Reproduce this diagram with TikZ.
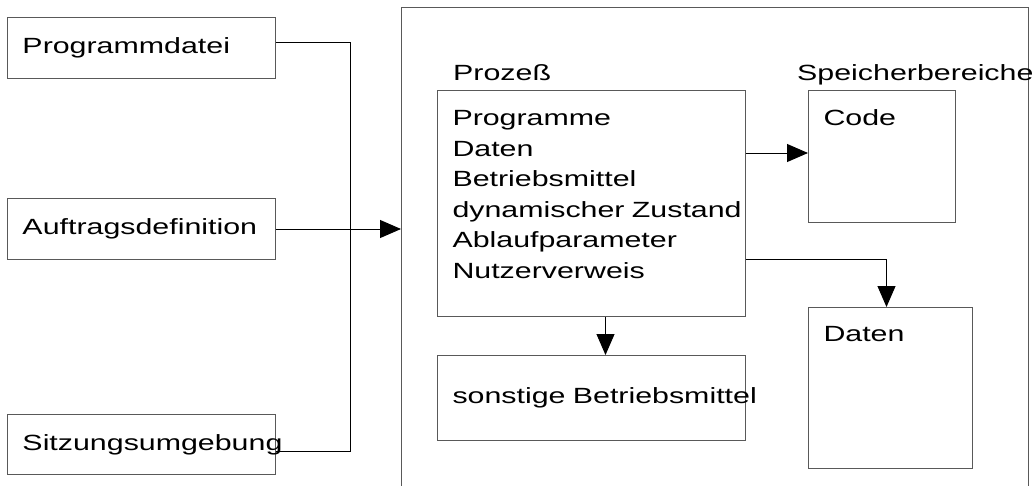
\documentclass[tikz,border=0pt]{standalone}
\usepackage{fontspec}
\usepackage{tikz}
\usetikzlibrary{arrows.meta, positioning, calc}
\newfontfamily\diafont[FakeStretch=1.38]{Liberation Sans}
\tikzset{
  frame/.style={rectangle, draw=black!65, line width=1pt, anchor=north west, inner sep=0pt},
  block/.style={frame, inner xsep=15pt, align=left, font=\diafont\fontsize{22}{30.6}\selectfont},
  caption/.style={font=\diafont\fontsize{22}{30.6}\selectfont, inner sep=0pt, anchor=base west},
  link/.style={draw=black, line width=1pt},
  arrowline/.style={link, -{Triangle[length=21pt, width=18pt]}},
}
\begin{document}
\begin{tikzpicture}[x=1pt, y=-1pt]
\fill[white] (0,0) rectangle (1034,485);
\useasboundingbox (0,0) rectangle (1034,485);
% inputs on the left
\node[block, text width=238pt, minimum height=61pt] (prog) at (7,17) {Programmdatei};
\node[block, text width=238pt, minimum height=61pt] (auftrag) at (7,198) {Auftragsdefinition};
\node[block, text width=238pt, minimum height=60pt] (sitz) at (7,414) {\mbox{Sitzungsumgebung}};
% system frame
\node[frame, minimum width=627pt, minimum height=500pt] (sys) at (401,7) {};
\node[caption] (prozlbl) at (453,80) {Prozeß};
\node[caption] (speicherlbl) at (797,80) {Speicherbereiche};
\node[block, text width=278pt, text height=35pt, text depth=191pt] (proz) at (437,90)
  {Programme\\Daten\\Betriebsmittel\\\mbox{dynamischer Zustand}\\Ablaufparameter\\Nutzerverweis};
\node[block, text width=117pt, text height=35pt, text depth=97pt] (code) at (808,90) {Code};
\node[block, text width=134pt, text height=34pt, text depth=127pt] (daten) at (808,307) {Daten};
\node[block, text width=278pt, minimum height=85pt] (sonst) at (437,355) {\mbox{sonstige Betriebsmittel}};

\coordinate (bustop) at (350,42);
\coordinate (busbot) at (350,451);
\coordinate (pc) at ([yshift=-63pt]proz.north east);
\coordinate (pd) at ([yshift=-169pt]proz.north east);

\draw[link] (prog.east |- bustop) -- (bustop) -- (busbot) -- (sitz.east |- busbot);
\draw[arrowline] (auftrag.east) -- (sys.west |- auftrag.east);
\draw[arrowline] (pc) -- (pc -| code.west);
\draw[arrowline] (pd) -| ([xshift=-4pt]daten.north);
\draw[arrowline] ([xshift=14pt]proz.south) -- ([xshift=14pt]sonst.north);
\end{tikzpicture}
\end{document}
